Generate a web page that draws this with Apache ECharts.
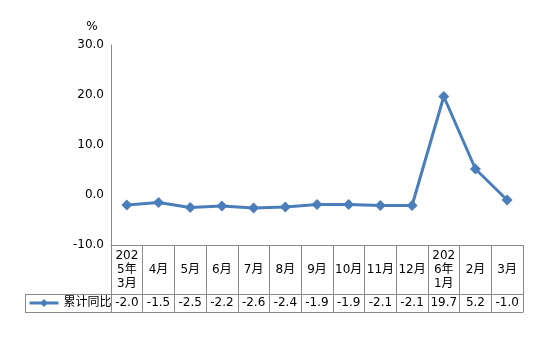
<!DOCTYPE html>
<html><head><meta charset="utf-8">
<script src="https://cdn.jsdelivr.net/npm/echarts@6/dist/echarts.min.js"></script>
<style>html,body{margin:0;padding:0;background:#fff}#c{width:554px;height:338px}</style>
</head><body><div id="c"></div>
<script>
const categories = ['202\n5年\n3月','4月','5月','6月','7月','8月','9月','10月','11月','12月','202\n6年\n1月','2月','3月'];
const seriesName = '累计同比';
const values = [-2.0,-1.5,-2.5,-2.2,-2.6,-2.4,-1.9,-1.9,-2.1,-2.1,19.7,5.2,-1.0];
const yTicks = {min:-10, max:30, interval:10};

const FONT = 'DejaVu Sans, Noto Sans CJK SC, sans-serif';
const GRAY = '#898989';
const BLUE = '#4a7ebb';
const chart = echarts.init(document.getElementById('c'));
chart.setOption({
  animation:false,
  textStyle:{fontFamily:FONT},
  grid:{left:111,right:31,top:45,bottom:93},
  legend:{data:[seriesName],left:28,top:297,padding:0,itemWidth:29,itemHeight:10,itemGap:0,
    lineStyle:{width:3,color:BLUE},
    textStyle:{fontSize:12,color:'#000',fontFamily:FONT,padding:[0,0,0,0]}},
  xAxis:[
    {type:'category',data:categories,position:'bottom',
     axisLine:{onZero:false,lineStyle:{color:GRAY,width:1}},
     axisTick:{show:true,length:67,interval:0,lineStyle:{color:GRAY}},
     axisLabel:{interval:0,fontSize:12,color:'#000',verticalAlign:'middle',margin:25,lineHeight:14,fontFamily:FONT}},
    {type:'category',data:values.map(v=>v.toFixed(1)),position:'bottom',offset:49,
     axisLine:{onZero:false,lineStyle:{color:GRAY,width:1}},axisTick:{show:false},
     axisLabel:{interval:0,fontSize:12,color:'#000',verticalAlign:'middle',margin:9,fontFamily:FONT}},
    {type:'category',data:categories,position:'bottom',offset:67,
     axisLine:{onZero:false,lineStyle:{color:GRAY,width:1}},axisTick:{show:false},axisLabel:{show:false}}
  ],
  yAxis:{type:'value',min:yTicks.min,max:yTicks.max,interval:yTicks.interval,
    name:'%',nameLocation:'end',nameGap:12,
    nameTextStyle:{fontSize:12,color:'#000',padding:[0,38,0,0],fontFamily:FONT},
    axisLine:{show:true,lineStyle:{color:GRAY}},axisTick:{show:false},splitLine:{show:false},
    axisLabel:{fontSize:12,color:'#000',margin:7,formatter:v=>v.toFixed(1),fontFamily:FONT}},
  series:[{name:seriesName,type:'line',xAxisIndex:0,data:values,
    symbol:'diamond',symbolSize:11,
    lineStyle:{color:BLUE,width:3},itemStyle:{color:BLUE}}],
  graphic:[
    {type:'line',shape:{x1:25,y1:294.5,x2:111,y2:294.5},style:{stroke:GRAY,lineWidth:1}},
    {type:'line',shape:{x1:25,y1:312.5,x2:111,y2:312.5},style:{stroke:GRAY,lineWidth:1}},
    {type:'line',shape:{x1:25.5,y1:294,x2:25.5,y2:313},style:{stroke:GRAY,lineWidth:1}}
  ]
});
</script></body></html>
